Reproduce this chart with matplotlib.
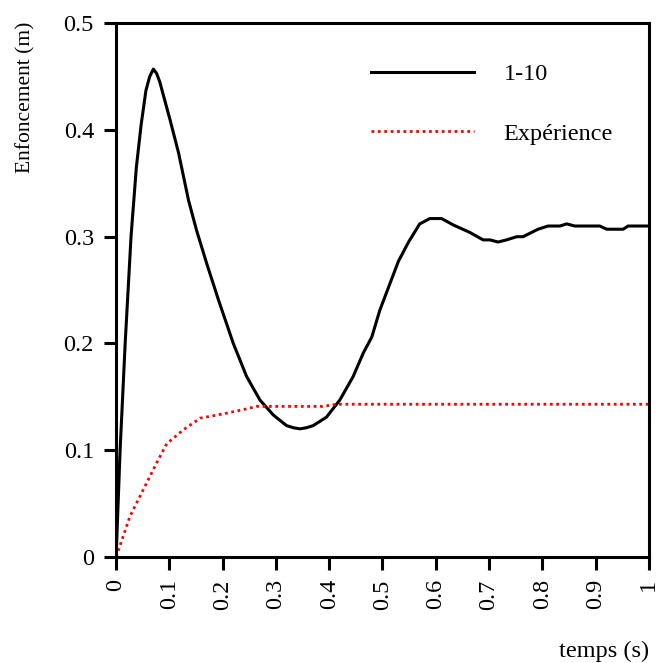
import numpy as np
import matplotlib
matplotlib.use("Agg")
import matplotlib.pyplot as plt

plt.rcParams['font.family'] = ['Liberation Serif', 'DejaVu Serif']

# simulation 1-10 (black)
t_sim = [0.0, 0.0075, 0.017, 0.028, 0.038, 0.047, 0.056, 0.063, 0.070, 0.076,
         0.082, 0.089, 0.101, 0.117, 0.136, 0.151, 0.170, 0.192, 0.220, 0.245,
         0.270, 0.295, 0.320, 0.333, 0.345, 0.357, 0.370, 0.395, 0.420, 0.445,
         0.464, 0.480, 0.495, 0.514, 0.530, 0.549, 0.570, 0.589, 0.611, 0.633,
         0.664, 0.689, 0.702, 0.717, 0.733, 0.752, 0.764, 0.792, 0.811, 0.833,
         0.846, 0.861, 0.908, 0.921, 0.952, 0.961, 1.0]
d_sim = [0.0, 0.100, 0.200, 0.300, 0.365, 0.405, 0.437, 0.450, 0.457, 0.453,
         0.445, 0.432, 0.410, 0.379, 0.334, 0.306, 0.275, 0.241, 0.200, 0.169,
         0.147, 0.133, 0.123, 0.121, 0.120, 0.121, 0.123, 0.131, 0.147, 0.169,
         0.191, 0.206, 0.231, 0.256, 0.277, 0.295, 0.312, 0.317, 0.317, 0.311,
         0.304, 0.297, 0.297, 0.295, 0.297, 0.300, 0.300, 0.307, 0.310, 0.310,
         0.312, 0.310, 0.310, 0.307, 0.307, 0.310, 0.310]

# experiment (red dotted)
t_exp = [0.0, 0.026, 0.051, 0.076, 0.095, 0.126, 0.158, 0.201, 0.239, 0.264,
         0.388, 0.414, 1.0]
d_exp = [0.0, 0.038, 0.063, 0.088, 0.106, 0.119, 0.130, 0.134, 0.138, 0.141,
         0.141, 0.143, 0.143]

xticks = [0, 0.1, 0.2, 0.3, 0.4, 0.5, 0.6, 0.7, 0.8, 0.9, 1]
xlabels = ['0', '0.1', '0.2', '0.3', '0.4', '0.5', '0.6', '0.7', '0.8', '0.9', '1']
yticks = [0, 0.1, 0.2, 0.3, 0.4, 0.5]
ylabels = ['0', '0.1', '0.2', '0.3', '0.4', '0.5']

fig = plt.figure(figsize=(6.56, 6.63), dpi=100)
ax = fig.add_axes([0.177, 0.160, 0.812, 0.805])

ax.plot(t_sim, d_sim, color='black', lw=2.2, label='1-10')
ax.plot(t_exp, d_exp, color='red', lw=2.0, dashes=(1, 1.3), label='Expérience')

ax.set_xlim(0, 1)
ax.set_ylim(0, 0.5)
ax.set_xticks(xticks)
ax.set_xticklabels(xlabels, rotation=90)
ax.set_yticks(yticks)
ax.set_yticklabels(ylabels)
ax.tick_params(direction='out', length=9, width=2.2, labelsize=17.5, pad=7)
for s in ax.spines.values():
    s.set_linewidth(2.2)

ax.set_ylabel('Enfoncement (m)', fontsize=15.5)
ax.yaxis.set_label_coords(-0.152, 0.862)
ax.set_xlabel('temps (s)', fontsize=17.5, ha='right')
ax.xaxis.set_label_coords(1.0, -0.157)

ax.legend(loc='upper left', bbox_to_anchor=(0.437, 0.966), frameon=False,
          fontsize=17.5, handlelength=4.24, handletextpad=1.23, labelspacing=1.54)

fig.savefig('out.png', dpi=100)
